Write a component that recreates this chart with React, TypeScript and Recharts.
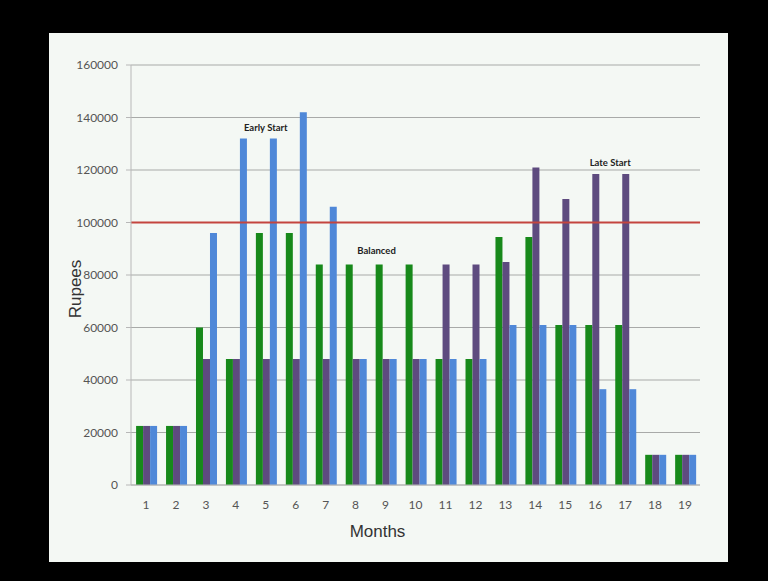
import React from "react";
import {
  BarChart, Bar, XAxis, YAxis, CartesianGrid, ReferenceLine, ReferenceDot,
} from "recharts";

// months on the x axis
const months = ["1", "2", "3", "4", "5", "6", "7", "8", "9", "10", "11", "12", "13", "14", "15", "16", "17", "18", "19"];

// resource plans, rupees per month
const balanced = [22500, 22500, 60000, 48000, 96000, 96000, 84000, 84000, 84000, 84000, 48000, 48000, 94500, 94500, 61000, 61000, 61000, 11500, 11500];
const lateStart = [22500, 22500, 48000, 48000, 48000, 48000, 48000, 48000, 48000, 48000, 84000, 84000, 85000, 121000, 109000, 118500, 118500, 11500, 11500];
const earlyStart = [22500, 22500, 96000, 132000, 132000, 142000, 106000, 48000, 48000, 48000, 48000, 48000, 61000, 61000, 61000, 36500, 36500, 11500, 11500];

const yTicks = [0, 20000, 40000, 60000, 80000, 100000, 120000, 140000, 160000];
const limit = 100000;

const notes = [
  { text: "Early Start", month: "5", value: 136300, dx: 0 },
  { text: "Balanced", month: "9", value: 89500, dx: -9 },
  { text: "Late Start", month: "16", value: 122900, dx: 15 },
];

const data = months.map((m, i) => ({
  month: m,
  balanced: balanced[i],
  late: lateStart[i],
  early: earlyStart[i],
}));

const tickFont = { fontFamily: "Lato, 'Open Sans', sans-serif", fontSize: 12, fill: "#555" };
const titleFont = { fontFamily: "'Liberation Sans', Arial, sans-serif", fontSize: 17, fill: "#333" };

export default function App() {
  return (
    <div style={{ position: "fixed", left: 0, top: 0, width: 768, height: 581, background: "#000" }}>
      <div style={{ position: "absolute", left: 49, top: 33, width: 679, height: 529, background: "#f4f8f4" }}>
        <BarChart
          width={679}
          height={529}
          data={data}
          margin={{ top: 32, right: 28, left: 22, bottom: 47 }}
          barCategoryGap="17%"
          barGap={0}
        >
          <CartesianGrid vertical={false} stroke="#a8aaa8" />
          <XAxis
            dataKey="month"
            tick={tickFont}
            tickLine={false}
            tickMargin={9}
            axisLine={{ stroke: "#b8b8b8" }}
            label={{ value: "Months", position: "insideBottom", offset: -22, dx: -38, style: titleFont }}
          />
          <YAxis
            width={60}
            domain={[0, 160000]}
            ticks={yTicks}
            tick={tickFont}
            tickSize={5}
            tickMargin={8}
            tickLine={{ stroke: "#b8b8b8" }}
            axisLine={{ stroke: "#b8b8b8" }}
            label={{ value: "Rupees", angle: -90, position: "insideLeft", dx: -1, dy: 14, style: { ...titleFont, textAnchor: "middle" } }}
          />
          <Bar dataKey="balanced" fill="#17891a" isAnimationActive={false} />
          <Bar dataKey="late" fill="#5e4b7f" isAnimationActive={false} />
          <Bar dataKey="early" fill="#4f88d8" isAnimationActive={false} />
          <ReferenceLine y={limit} stroke="#c4453f" strokeWidth={2} />
          {notes.map((n) => (
            <ReferenceDot
              key={n.text}
              x={n.month}
              y={n.value}
              r={0}
              shape={(p: any) => (
                <text
                  x={p.cx + n.dx}
                  y={p.cy}
                  textAnchor="middle"
                  dominantBaseline="central"
                  style={{ fontFamily: "Lato, sans-serif", fontWeight: 700, fontSize: 9.5, fill: "#222" }}
                >
                  {n.text}
                </text>
              )}
            />
          ))}
        </BarChart>
      </div>
    </div>
  );
}
